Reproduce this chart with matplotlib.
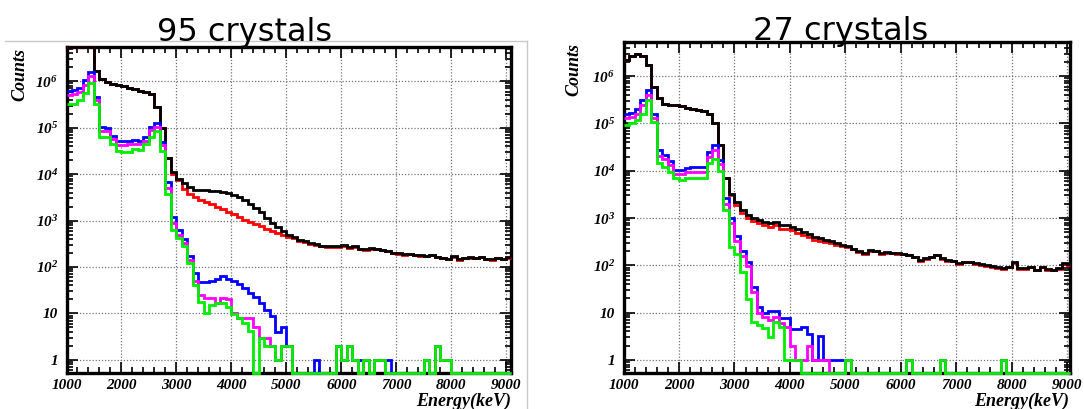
import numpy as np
import matplotlib.pyplot as plt
from matplotlib.lines import Line2D
from matplotlib.ticker import MultipleLocator, LogLocator, NullFormatter

plt.rcParams['mathtext.fontset'] = 'custom'
plt.rcParams['mathtext.rm'] = 'Liberation Serif:bold:italic'
plt.rcParams['mathtext.it'] = 'Liberation Serif:bold:italic'
plt.rcParams['mathtext.bf'] = 'Liberation Serif:bold:italic'

# 100 keV bins from 1000 keV, last bin 9000-9100
bin_lo = 1000
bin_width = 100
n_bins = 81
edges = bin_lo + bin_width * np.arange(n_bins + 1)

# ---------------- 95 crystals ----------------
# one row per 1000 keV (10 bins), last entry = 9000 keV bin
tot_95 = [9e6, 9e6, 9e6, 9e6, 9e6, 1.7e6, 1.1e6, 9.5e5, 8.8e5, 8.2e5,
          7.8e5, 7.3e5, 6.8e5, 6.3e5, 5.8e5, 5.3e5, 2.8e5, 1.0e5, 2.2e4, 1.1e4,
          8.0e3, 6.5e3, 5.2e3, 4.6e3, 4.5e3, 4.5e3, 4.4e3, 4.3e3, 4.1e3, 3.9e3,
          3.6e3, 3.2e3, 2.8e3, 2.3e3, 1.9e3, 1.5e3, 1150, 900, 720, 600,
          500, 440, 380, 360, 330, 310, 290, 278, 278, 285,
          300, 265, 278, 245, 240, 255, 250, 236, 225, 205,
          200, 190, 195, 185, 178, 175, 185, 168, 160, 150,
          172, 148, 158, 165, 160, 168, 150, 145, 160, 150,
          165]
red_95 = [9e6, 9e6, 9e6, 9e6, 9e6, 1.7e6, 1.1e6, 9.5e5, 8.8e5, 8.2e5,
          7.8e5, 7.3e5, 6.8e5, 6.3e5, 5.8e5, 5.3e5, 2.8e5, 1.0e5, 2.2e4, 1.0e4,
          7.5e3, 4.9e3, 3.8e3, 3.2e3, 2.8e3, 2.5e3, 2.3e3, 2.0e3, 1.75e3, 1.55e3,
          1.4e3, 1.2e3, 1.05e3, 950, 840, 750, 660, 600, 540, 490,
          440, 420, 370, 345, 320, 300, 282, 270, 270, 276,
          290, 258, 270, 238, 233, 248, 242, 229, 218, 199,
          194, 184, 189, 179, 172, 170, 178, 163, 155, 146,
          166, 144, 153, 160, 155, 163, 146, 141, 155, 146,
          160]
blue_95 = [6.3e5, 6.5e5, 7.0e5, 1.05e6, 1.55e6, 4.7e5, 1.05e5, 1.0e5, 6.7e4, 5.2e4,
           5.2e4, 5.3e4, 5.5e4, 5.3e4, 6.3e4, 1.05e5, 1.25e5, 5.0e4, 6.8e3, 1.2e3,
           630, 400, 175, 74, 47, 47, 50, 55, 63, 55,
           49, 42, 35, 28, 23, 17, 12, 9, 4, 5,
           2, 0, 0, 0, 0, 1, 0, 0, 0, 2,
           1, 2, 1, 1, 1, 0, 1, 1, 1, 0,
           0, 0, 0, 0, 0, 1, 0, 2, 1, 1,
           0, 0, 0, 0, 0, 0, 0, 0, 0, 0,
           0]
mag_95 = [5.0e5, 5.2e5, 5.8e5, 8.5e5, 1.3e6, 3.9e5, 8.7e4, 8.5e4, 5.6e4, 4.3e4,
          4.3e4, 4.4e4, 4.5e4, 4.4e4, 5.3e4, 8.8e4, 1.05e5, 4.2e4, 5.0e3, 900,
          500, 330, 140, 50, 25, 21, 21, 17, 21, 20,
          10, 8, 8, 8, 5, 3, 3, 2, 1, 2,
          2, 0, 0, 0, 0, 0, 0, 0, 0, 2,
          1, 2, 1, 0, 1, 0, 1, 1, 0, 0,
          0, 0, 0, 0, 0, 1, 0, 2, 1, 1,
          0, 0, 0, 0, 0, 0, 0, 0, 0, 0,
          0]
green_95 = [3.2e5, 3.3e5, 4.0e5, 5.5e5, 9.0e5, 3.2e5, 6.3e4, 6.3e4, 4.5e4, 3.1e4,
            3.0e4, 3.0e4, 3.4e4, 3.3e4, 4.5e4, 6.3e4, 8.5e4, 3.2e4, 3.8e3, 630,
            420, 280, 120, 40, 18, 10, 15, 17, 17, 14,
            9.6, 8, 6.3, 4.2, 0, 3, 2, 2, 1, 2,
            2, 0, 0, 0, 0, 0, 0, 0, 0, 2,
            1, 2, 1, 0, 1, 0, 1, 1, 0, 0,
            0, 0, 0, 0, 0, 1, 0, 2, 1, 1,
            0, 0, 0, 0, 0, 0, 0, 0, 0, 0,
            0]

# ---------------- 27 crystals ----------------
tot_27 = [2.2e6, 2.7e6, 3.0e6, 2.7e6, 1.7e6, 5.9e5, 3.4e5, 2.6e5, 2.45e5, 2.4e5,
          2.3e5, 2.15e5, 2.05e5, 1.9e5, 1.8e5, 1.6e5, 1.0e5, 3.5e4, 6.9e3, 3.3e3,
          2.2e3, 1.5e3, 1.15e3, 980, 910, 830, 770, 830, 710, 700,
          660, 575, 515, 450, 400, 370, 350, 320, 295, 275,
          255, 225, 200, 180, 210, 205, 182, 190, 186, 180,
          175, 167, 153, 130, 141, 153, 167, 141, 130, 126,
          111, 120, 120, 111, 107, 102, 97, 91, 87, 94,
          115, 87, 87, 94, 80, 94, 83, 80, 87, 111,
          107]
red_27 = [2.2e6, 2.7e6, 3.0e6, 2.7e6, 1.7e6, 5.9e5, 3.4e5, 2.6e5, 2.45e5, 2.4e5,
          2.3e5, 2.15e5, 2.05e5, 1.9e5, 1.8e5, 1.6e5, 1.0e5, 3.5e4, 6.9e3, 3.0e3,
          1.9e3, 1.3e3, 1.0e3, 850, 780, 700, 650, 700, 600, 590,
          560, 490, 440, 390, 350, 330, 315, 290, 272, 258,
          245, 218, 194, 175, 204, 199, 177, 184, 180, 175,
          170, 162, 148, 126, 137, 148, 162, 137, 126, 122,
          108, 116, 116, 108, 104, 99, 94, 88, 84, 91,
          112, 84, 84, 91, 78, 91, 80, 78, 84, 108,
          104]
blue_27 = [1.6e5, 1.7e5, 2.0e5, 3.1e5, 5.0e5, 1.6e5, 2.7e4, 2.2e4, 1.6e4, 1.05e4,
           1.05e4, 1.15e4, 1.2e4, 1.2e4, 1.2e4, 2.5e4, 3.5e4, 1.7e4, 2.6e3, 1.0e3,
           420, 200, 117, 35, 13, 10, 11, 11, 7.6, 7.6,
           4.5, 4.5, 5, 3.5, 1, 3.2, 1, 1, 1, 1,
           1, 0, 0, 0, 0, 0, 0, 0, 0, 0,
           0, 1, 0, 0, 0, 0, 0, 1, 0, 0,
           0, 0, 0, 0, 0, 0, 0, 0, 1, 0,
           0, 0, 0, 0, 0, 0, 0, 0, 0, 0,
           0]
mag_27 = [1.3e5, 1.4e5, 1.6e5, 2.5e5, 4.0e5, 1.3e5, 2.1e4, 1.8e4, 1.3e4, 8.5e3,
          8.5e3, 9.2e3, 9.5e3, 9.5e3, 9.5e3, 2.0e4, 2.8e4, 1.4e4, 2.0e3, 800,
          320, 160, 95, 28, 10, 8, 7, 8, 6, 5,
          2, 1, 1, 2, 1, 1, 1, 0, 0, 0,
          1, 0, 0, 0, 0, 0, 0, 0, 0, 0,
          0, 1, 0, 0, 0, 0, 0, 1, 0, 0,
          0, 0, 0, 0, 0, 0, 0, 0, 1, 0,
          0, 0, 0, 0, 0, 0, 0, 0, 0, 0,
          0]
green_27 = [9.3e4, 1.0e5, 1.2e5, 1.6e5, 3.1e5, 1.1e5, 1.45e4, 1.2e4, 9.5e3, 6.9e3,
            6.4e3, 7.2e3, 7.2e3, 7.2e3, 6.9e3, 1.45e4, 1.8e4, 1.0e4, 1.5e3, 250,
            175, 72, 19.5, 6.2, 5.5, 4.7, 3.1, 6.2, 5, 1,
            1, 1, 0, 0, 0, 0, 0, 0, 0, 0,
            1, 0, 0, 0, 0, 0, 0, 0, 0, 0,
            0, 1, 0, 0, 0, 0, 0, 1, 0, 0,
            0, 0, 0, 0, 0, 0, 0, 0, 1, 0,
            0, 0, 0, 0, 0, 0, 0, 0, 0, 0,
            0]

decades = [1, 10, 1e2, 1e3, 1e4, 1e5, 1e6]
decade_labels = ['1', '10', r'$\mathrm{10^{2}}$', r'$\mathrm{10^{3}}$',
                 r'$\mathrm{10^{4}}$', r'$\mathrm{10^{5}}$', r'$\mathrm{10^{6}}$']
energy_ticks = np.arange(1000, 9001, 1000)

W, H = 1084, 409
rfont = dict(family='Liberation Serif', weight='bold', style='italic')


def draw_panel(ax, series, xmax, ylim):
    ylo, yhi = ylim
    x = np.clip(edges, bin_lo, xmax)
    for vals, col in series:
        # ROOT draws out-of-range bins along the frame
        v = np.clip(np.asarray(vals, dtype=float), ylo, yhi)
        ax.stairs(v, x, baseline=None, color=col, lw=2.0, zorder=3, clip_on=False)

    ax.set_yscale('log')
    ax.set_xlim(bin_lo, xmax)
    ax.set_ylim(ylo, yhi)
    ax.set_xticks(energy_ticks)
    ax.set_xticklabels([str(e) for e in energy_ticks])
    ax.xaxis.set_minor_locator(MultipleLocator(200))
    ax.set_yticks(decades)
    ax.set_yticklabels(decade_labels)
    ax.yaxis.set_minor_locator(LogLocator(base=10, subs=np.arange(2, 10), numticks=20))
    ax.yaxis.set_minor_formatter(NullFormatter())

    ax.tick_params(which='both', direction='in', top=True, right=True, width=1.2)
    ax.tick_params(which='major', length=8, labelsize=11)
    ax.tick_params(axis='x', which='major', pad=4.5)
    ax.tick_params(axis='y', which='major', pad=6)
    ax.tick_params(which='minor', length=4)
    for lab in ax.get_xticklabels() + ax.get_yticklabels():
        lab.set_fontfamily('Liberation Serif')
        lab.set_fontweight('bold')
        lab.set_fontstyle('italic')

    ax.grid(True, which='major', color='0.45', ls=(0, (1, 1.5)), lw=0.9)
    for sp in ax.spines.values():
        sp.set_linewidth(2.4)
        sp.set_zorder(2.5)


fig = plt.figure(figsize=(W / 100, H / 100), dpi=100)

ax1 = fig.add_axes([66.5 / W, 1 - 373 / H, 444.2 / W, (373 - 47.3) / H])
draw_panel(ax1, [(red_95, 'red'), (tot_95, 'black'), (blue_95, 'blue'),
                 (mag_95, 'magenta'), (green_95, '#00ee00')],
           9080, (0.52, 5.4e6))

ax2 = fig.add_axes([623.5 / W, 1 - 373 / H, 446 / W, (373 - 42.3) / H])
draw_panel(ax2, [(red_27, 'red'), (tot_27, 'black'), (blue_27, 'blue'),
                 (mag_27, 'magenta'), (green_27, '#00ee00')],
           9040, (0.53, 5.2e6))

# light frame around the left picture
fig.add_artist(Line2D([5 / W, 527 / W], [1 - 41 / H, 1 - 41 / H],
                      transform=fig.transFigure, color='#c8c8c8', lw=1))
fig.add_artist(Line2D([527 / W, 527 / W], [1 - 41 / H, 0],
                      transform=fig.transFigure, color='#c8c8c8', lw=1))

# axis titles, ROOT style
fig.text(20 / W, 1 - 48 / H, 'Counts', rotation=90, ha='center', va='top',
         fontsize=13, **rfont)
fig.text(574 / W, 1 - 43 / H, 'Counts', rotation=90, ha='center', va='top',
         fontsize=13, **rfont)
fig.text(511 / W, 1 - 405.5 / H, 'Energy(keV)', ha='right', va='baseline',
         fontsize=13, **rfont)
fig.text(1069 / W, 1 - 405.5 / H, 'Energy(keV)', ha='right', va='baseline',
         fontsize=13, **rfont)

# panel headings
fig.text(245 / W, 1 - 41 / H, '95 crystals', ha='center', va='baseline',
         fontsize=23, family='DejaVu Sans', zorder=10)
fig.text(841 / W, 1 - 40 / H, '27 crystals', ha='center', va='baseline',
         fontsize=23, family='DejaVu Sans', zorder=10)

fig.savefig('out.png', dpi=100)
